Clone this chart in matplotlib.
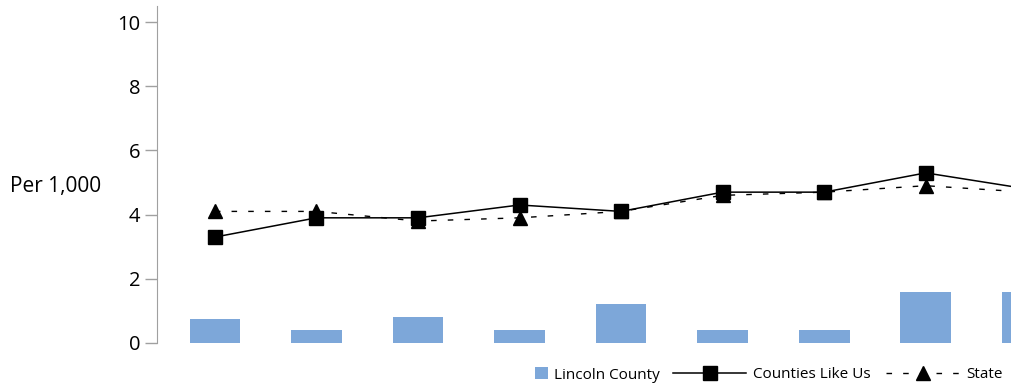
import matplotlib
matplotlib.use("Agg")
import matplotlib.pyplot as plt
from matplotlib.lines import Line2D
from matplotlib.patches import Patch

plt.rcParams['font.family'] = ['Open Sans', 'DejaVu Sans']

# values (9 periods, no x labels shown)
periods = list(range(9))
lincoln = [0.75, 0.4, 0.8, 0.4, 1.2, 0.4, 0.4, 1.6, 1.6]
counties_like_us = [3.3, 3.9, 3.9, 4.3, 4.1, 4.7, 4.7, 5.3, 4.8]
state = [4.1, 4.1, 3.8, 3.9, 4.1, 4.6, 4.7, 4.9, 4.7]

bar_color = '#7da7d9'
axis_grey = '#a0a0a0'

fig = plt.figure(figsize=(10.11, 3.86), dpi=100)
ax = fig.add_axes([0.1553, 0.1114, 0.8447, 0.8731])

ax.bar(periods, lincoln, width=0.5, color=bar_color, zorder=1)
ax.plot(periods, state, color='black', lw=1.0, linestyle=(0, (4, 8)),
        marker='^', markersize=10, zorder=2)
ax.plot(periods, counties_like_us, color='black', lw=1.1,
        marker='s', markersize=10, zorder=3)

ax.set_xlim(-0.57, 7.84)
ax.set_ylim(0, 10.5)
ax.set_yticks([0, 2, 4, 6, 8, 10])
ax.set_xticks([])
for s in ['top', 'right', 'bottom']:
    ax.spines[s].set_visible(False)
ax.spines['left'].set_color(axis_grey)
ax.tick_params(axis='y', colors=axis_grey, length=9, width=1, labelsize=14.5,
               labelcolor='black', pad=3)

fig.text(0.01, (386 - 186) / 386, 'Per 1,000', fontsize=15, va='center', ha='left')

fig.legend(handles=[Patch(facecolor=bar_color, label='Lincoln County')],
           loc='center left', bbox_to_anchor=(535 / 1011, 11 / 386),
           frameon=False, fontsize=11, handlelength=0.85, handleheight=0.85,
           handletextpad=0.4, borderpad=0, borderaxespad=0)
line_handles = [
    Line2D([], [], color='black', lw=1.1, marker='s', markersize=10, label='Counties Like Us'),
    Line2D([], [], color='black', lw=1.0, linestyle=(0, (4, 8)), marker='^',
           markersize=10, label='State'),
]
fig.legend(handles=line_handles, loc='center left', bbox_to_anchor=(673 / 1011, 11 / 386),
           ncol=2, frameon=False, fontsize=11, handlelength=4.8, handletextpad=0.45,
           columnspacing=1.0, borderpad=0, borderaxespad=0)

fig.savefig('out.png', dpi=100)
